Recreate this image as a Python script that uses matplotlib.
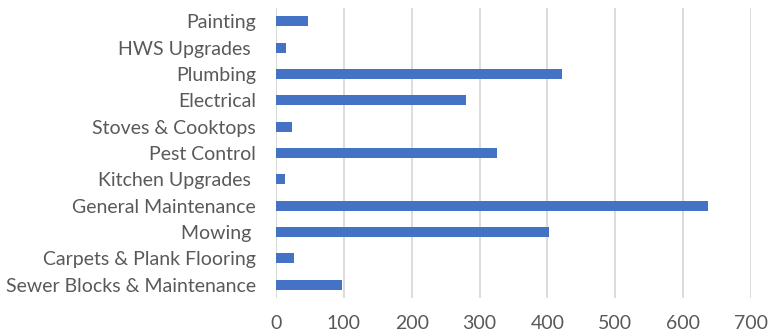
import matplotlib
matplotlib.use("Agg")
import matplotlib.pyplot as plt

categories = [
    "Painting",
    "HWS Upgrades ",
    "Plumbing",
    "Electrical",
    "Stoves & Cooktops",
    "Pest Control",
    "Kitchen Upgrades ",
    "General Maintenance",
    "Mowing ",
    "Carpets & Plank Flooring",
    "Sewer Blocks & Maintenance",
]
values = [47, 15, 421, 280, 23, 325, 13, 636, 403, 26, 97]
x_ticks = [0, 100, 200, 300, 400, 500, 600, 700]

bar_color = "#4472C4"
text_color = "#595959"
grid_color = "#D9D9D9"

plt.rcParams["font.family"] = ["Lato", "DejaVu Sans"]

fig = plt.figure(figsize=(7.83, 3.36), dpi=100)
ax = fig.add_axes([276 / 783, 1 - 298 / 336, (751 - 276) / 783, (298 - 8) / 336])

y = list(range(len(categories)))[::-1]
ax.barh(y, values, height=0.38, color=bar_color, zorder=3)

ax.set_xlim(0, 700)
ax.set_ylim(-0.5, len(categories) - 0.5)
ax.set_xticks(x_ticks)
ax.set_xticklabels([str(t) for t in x_ticks])
ax.set_yticks(y)
ax.set_yticklabels(categories)

ax.grid(axis="x", color=grid_color, linewidth=1.3, zorder=0)
for side in ["top", "right", "bottom", "left"]:
    ax.spines[side].set_visible(False)
ax.axvline(0, color=grid_color, linewidth=1.3, zorder=1)

ax.tick_params(axis="y", length=0, pad=14.5, labelsize=14, labelcolor=text_color)
ax.tick_params(axis="x", length=0, pad=12, labelsize=14, labelcolor=text_color)

fig.savefig("out.png", dpi=100)
